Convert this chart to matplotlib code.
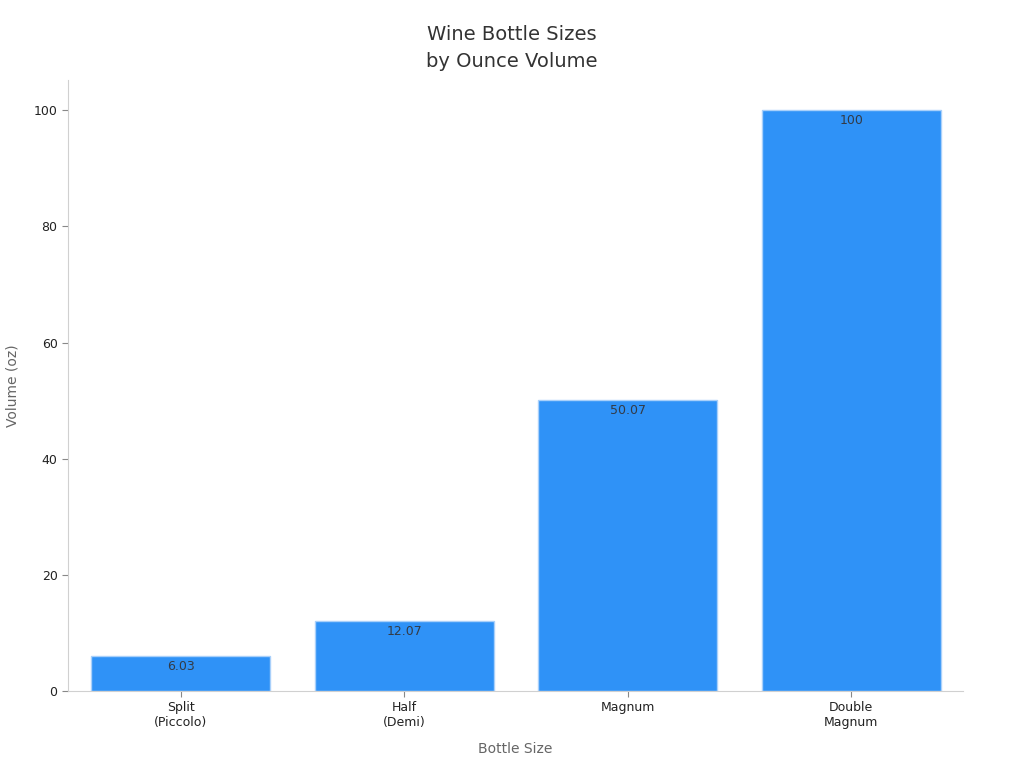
import matplotlib
matplotlib.use("Agg")
import matplotlib.pyplot as plt

categories = ["Split\n(Piccolo)", "Half\n(Demi)", "Magnum", "Double\nMagnum"]
values = [6.03, 12.07, 50.07, 100]
value_labels = ["6.03", "12.07", "50.07", "100"]

plt.rcParams['font.family'] = ['DejaVu Sans']
fig = plt.figure(figsize=(10.24, 7.68), dpi=100)
ax = fig.add_axes([0.0664, 0.1003, 0.8740, 0.7955])

x = range(len(categories))
bars = ax.bar(x, values, width=0.8, color="#2f92f7", edgecolor="#a9d0fa", linewidth=1)
for xi, v, lab in zip(x, values, value_labels):
    ax.annotate(lab, (xi, v), xytext=(0, -3), textcoords="offset points",
                ha="center", va="top", fontsize=9, color="#333b47")

ax.set_xlim(-0.505, 3.5)
ax.set_ylim(0, 105.2)
ax.set_xticks(list(x))
ax.set_xticklabels(categories, fontsize=9, color="#222222")
ax.set_yticks([0, 20, 40, 60, 80, 100])
ax.tick_params(axis='y', labelsize=9, labelcolor="#222222", color="#888888", length=4)
ax.tick_params(axis='x', color="#888888", length=4)
for s in ["top", "right"]:
    ax.spines[s].set_visible(False)
for s in ["left", "bottom"]:
    ax.spines[s].set_color("#d0d0d0")
ax.set_xlabel("Bottle Size", fontsize=10, color="#666666", labelpad=9)
ax.set_ylabel("Volume (oz)", fontsize=10, color="#666666", labelpad=10)
fig.text(0.5, 0.968, "Wine Bottle Sizes\nby Ounce Volume", fontsize=14, color="#333333",
         ha="center", va="top", linespacing=1.55)

fig.savefig("out.png", dpi=100)
